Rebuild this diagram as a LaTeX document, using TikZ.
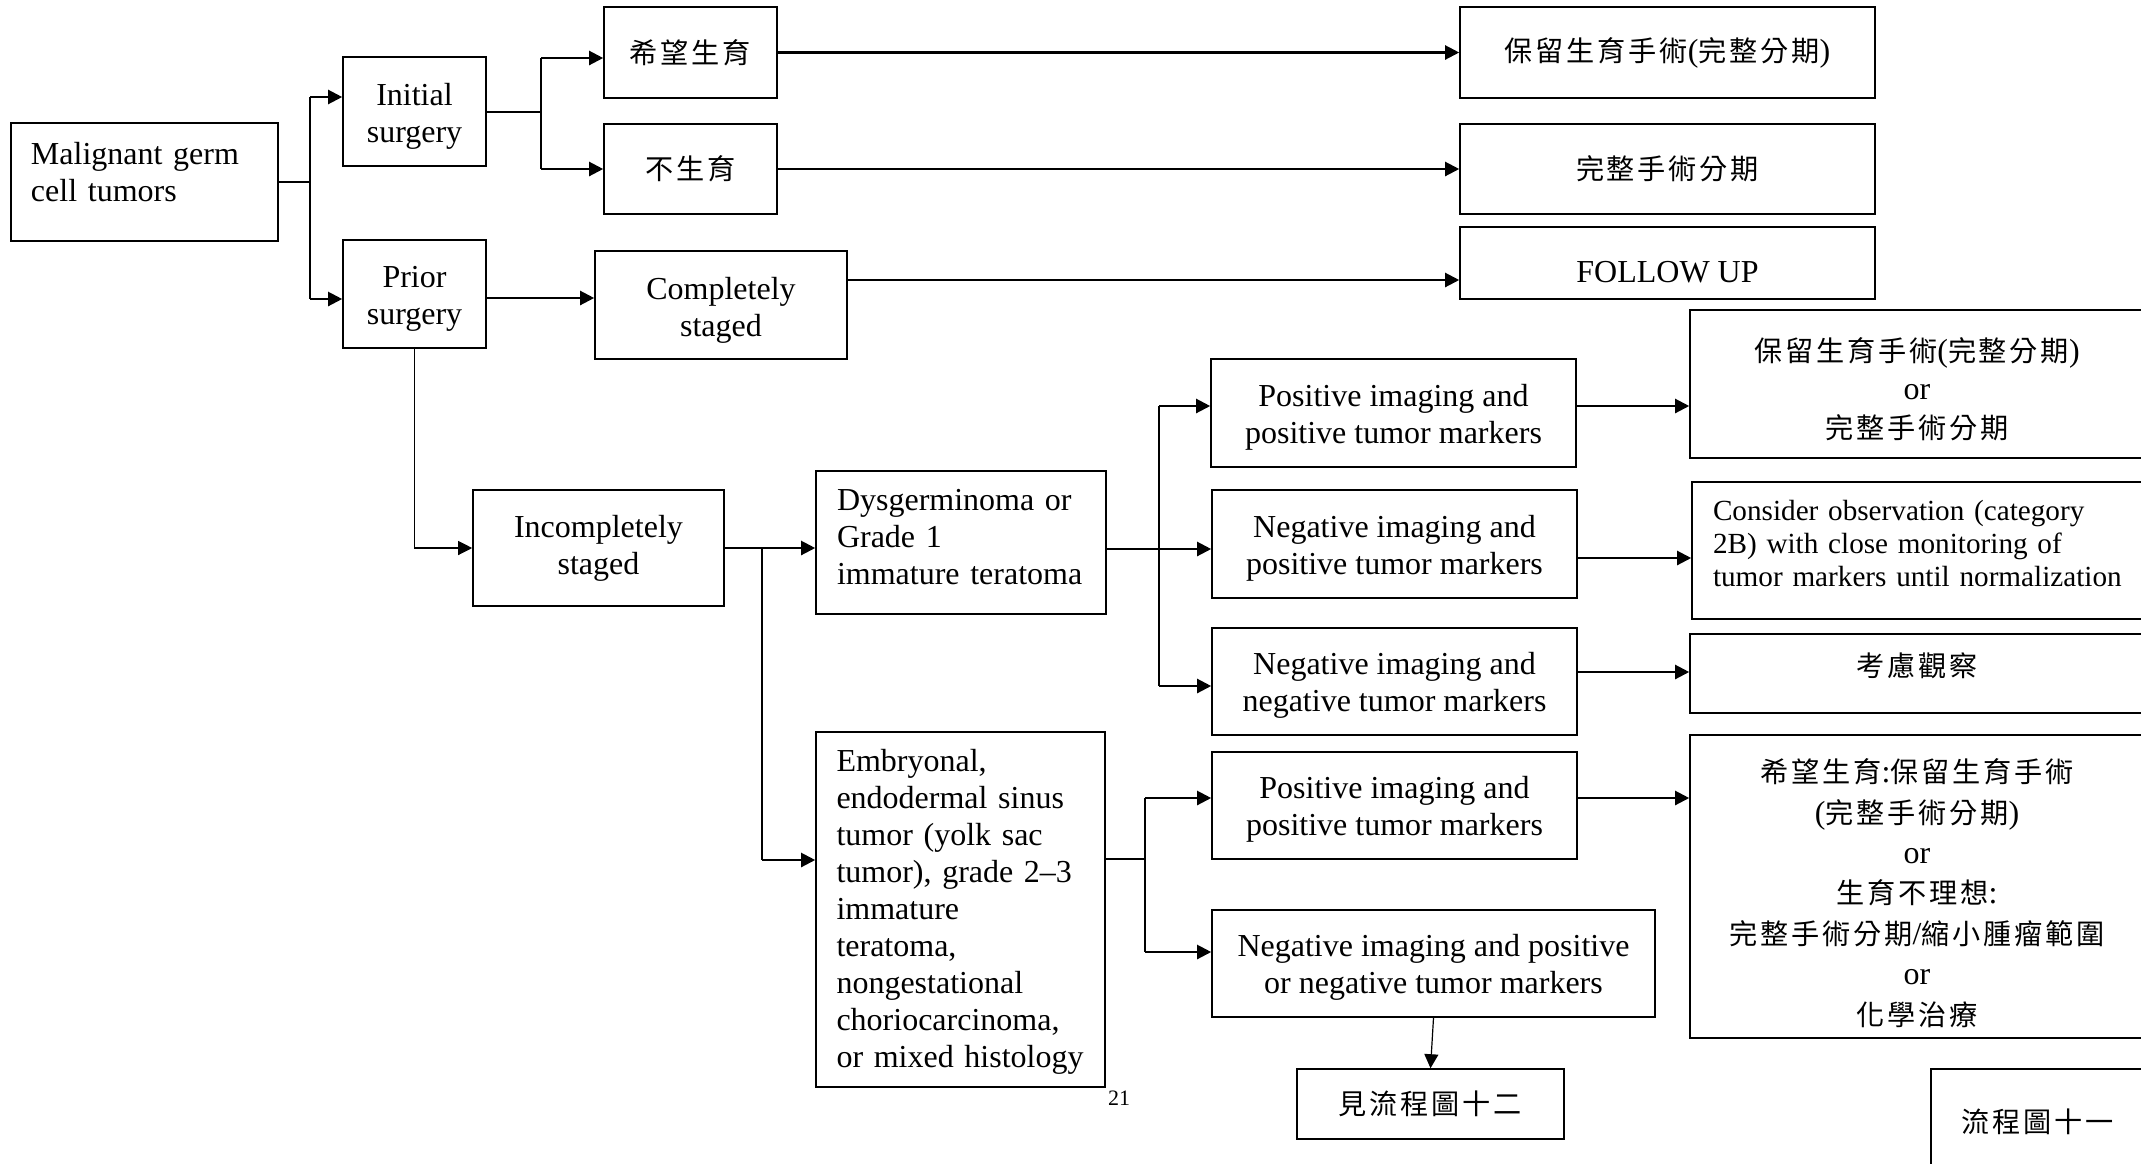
\documentclass[tikz,border=0pt]{standalone}
\usepackage{fontspec}
\setmainfont{Liberation Serif}
\newfontfamily\cjk[Scale=0.88,LetterSpace=10]{Noto Sans CJK TC}
\usetikzlibrary{arrows.meta}

\newcommand\zh[1]{{\cjk #1}}

\tikzset{
  box/.style={draw, line width=0.8pt, inner sep=0pt, align=center,
    font=\fontsize{16}{18.4}\selectfont},
  txt/.style={inner sep=0pt, align=center, font=\fontsize{16}{18.4}\selectfont},
  arr/.style={line width=1.1pt, -{Triangle[length=7pt,width=7pt]}},
  arrthin/.style={line width=0.6pt, -{Triangle[length=7pt,width=7pt]}},
  wire/.style={line width=1.1pt},
  thinwire/.style={line width=0.6pt},
}

% box given by its corners (in pixel units): [opts]{name}{x1}{y1}{x2}{y2}{text}
\newcommand\bx[7][]{%
  \node[box,minimum width={(#5-#3)*0.5pt},minimum height={(#6-#4)*0.5pt},#1]
    (#2) at ({(#3+#5)/2},{(#4+#6)/2}) {#7};}
% empty box plus a separate text node (name+t) placed at (tx,ty)
\newcommand\bxt[9][]{%
  \node[box,minimum width={(#5-#3)*0.5pt},minimum height={(#6-#4)*0.5pt}]
    (#2) at ({(#3+#5)/2},{(#4+#6)/2}) {};
  \node[txt,#1] (#2t) at (#7,#8) {#9};}

\begin{document}
\begin{tikzpicture}[x=0.5pt,y=-0.5pt]
\useasboundingbox (0,0) rectangle (2141,1163);
\fill[white] (0,0) rectangle (2141,1163);
\clip (0,0) rectangle (2141,1163);

% ---- boxes ----
\bxt[align=left,text width=113.5pt]{mal}{11}{123}{278}{241}{144.5}{172}{Malignant germ\\cell tumors}
\bxt{init}{343}{57}{486}{166}{414.5}{116.5}{Initial\\surgery}
\bxt{prior}{343}{240}{486}{348}{414.5}{299}{Prior\\surgery}
\bx{want}{604}{7}{777}{98}{\zh{希望生育}}
\bx{nowant}{604}{124}{777}{214}{\zh{不生育}}
\bx{keep1}{1460}{7}{1875}{98}{\zh{保留生育手術}(\zh{完整分期})}
\bx{stage1}{1460}{124}{1875}{214}{\zh{完整手術分期}}
\bxt{follow}{1460}{227}{1875}{299}{1667.5}{272}{FOLLOW UP}
\bxt{comp}{595}{251}{847}{359}{721}{310}{Completely\\staged}
\bx{incomp}{473}{490}{724}{606}{Incompletely\\staged}
\bxt[align=left,text width=124pt]{dys}{816}{471}{1106}{614}{961}{537}{Dysgerminoma or\\Grade 1\\immature teratoma}
\bxt[align=left,text width=124pt,font=\fontsize{16}{18.5}\selectfont]{emb}{816}{732}{1105}{1087}{960.5}{912}{Embryonal,\\endodermal sinus\\tumor (yolk sac\\tumor), grade 2--3\\immature\\teratoma,\\nongestational\\choriocarcinoma,\\or mixed histology}
\bxt{p1}{1211}{359}{1576}{467}{1393.5}{417}{Positive imaging and\\positive tumor markers}
\bxt{n2}{1212}{490}{1577}{598}{1394.5}{548}{Negative imaging and\\positive tumor markers}
\bxt{n3}{1212}{628}{1577}{735}{1394.5}{685.5}{Negative imaging and\\negative tumor markers}
\bxt{p4}{1212}{752}{1577}{859}{1394.5}{809.5}{Positive imaging and\\positive tumor markers}
\bxt{n5}{1212}{910}{1655}{1017}{1433.5}{967.5}{Negative imaging and positive\\or negative tumor markers}
\bxt[font=\fontsize{16}{19.3}\selectfont]{r1}{1690}{310}{2144}{458}{1917}{389}{\zh{保留生育手術}(\zh{完整分期})\\or\\\zh{完整手術分期}}
\bxt[align=left,text width=206pt,font=\fontsize{14.6}{16.5}\selectfont]{r2}{1692}{482}{2144}{619}{1919}{544}{Consider observation (category\\2B) with close monitoring of\\tumor markers until normalization}
\bxt{r3}{1690}{634}{2144}{713}{1917}{666}{\zh{考慮觀察}}
\bxt[font=\fontsize{16}{20.2}\selectfont]{r4}{1690}{735}{2144}{1038}{1917}{893}{\zh{希望生育}:\zh{保留生育手術}\\(\zh{完整手術分期})\\or\\\zh{生育不理想}:\\\zh{完整手術分期}/\zh{縮小腫瘤範圍}\\or\\\zh{化學治療}}
\bx{see12}{1297}{1069}{1564}{1139}{\zh{見流程圖十二}}
\bx{flow11}{1931}{1069}{2144}{1175}{\zh{流程圖十一}}
\node[font=\fontsize{11}{13}\selectfont,inner sep=0pt] (pagenum) at (1119,1098) {21};

% ---- connectors ----
% from the tumour box to the two surgery boxes
\coordinate (b1) at (310,182);
\coordinate (b1a) at (310,97);
\coordinate (b1b) at (310,299);
\draw[thinwire] (mal.east |- b1) -- (b1);
\draw[wire] (b1a) -- (b1b);
\draw[arr] (b1a) -- (init.west |- b1a);
\draw[arr] (b1b) -- (prior.west |- b1b);

% initial surgery: fertility wish or not
\coordinate (b2) at (541,112);
\coordinate (b2a) at (541,58);
\coordinate (b2b) at (541,169);
\draw[thinwire] (init.east |- b2) -- (b2);
\draw[wire] (b2a) -- (b2b);
\draw[arr] (b2a) -- (want.west |- b2a);
\draw[arr] (b2b) -- (nowant.west |- b2b);
\draw[arr] (want.east) -- (keep1.west);
\draw[arr] (nowant.east) -- (stage1.west);

% prior surgery
\coordinate (c1) at (486,298);
\draw[arr] (prior.east |- c1) -- (comp.west |- c1);
\coordinate (fu) at (847,280);
\draw[arr] (comp.east |- fu) -- (follow.west |- fu);
\draw[arrthin] (prior.south) |- (incomp.west);

% incompletely staged: histology split
\coordinate (b3) at (762,548);
\coordinate (b3b) at (762,860);
\draw[wire] (incomp.east |- b3) -- (b3);
\draw[arr] (b3) -- (dys.west |- b3);
\draw[thinwire] (b3) -- (b3b);
\draw[arr] (b3b) -- (emb.west |- b3b);

% dysgerminoma / grade 1 branch
\coordinate (b4) at (1159,549);
\coordinate (b4a) at (1159,406);
\coordinate (b4b) at (1159,686);
\draw[wire] (dys.east |- b4) -- (b4);
\draw[wire] (b4a) -- (b4b);
\draw[arr] (b4a) -- (p1.west |- b4a);
\draw[arr] (b4) -- (n2.west |- b4);
\draw[arr] (b4b) -- (n3.west |- b4b);
\coordinate (q2) at (1577,558);
\coordinate (q3) at (1577,672);
\draw[arr] (p1.east |- b4a) -- (r1.west |- b4a);
\draw[arr] (n2.east |- q2) -- (r2.west |- q2);
\draw[arr] (n3.east |- q3) -- (r3.west |- q3);

% embryonal / mixed branch
\coordinate (b5) at (1145,859);
\coordinate (b5a) at (1145,798);
\coordinate (b5b) at (1145,952);
\draw[thinwire] (emb.east |- b5) -- (b5);
\draw[wire] (b5a) -- (b5b);
\draw[arr] (b5a) -- (p4.west |- b5a);
\draw[arr] (b5b) -- (n5.west |- b5b);
\draw[arr] (p4.east |- b5a) -- (r4.west |- b5a);
\draw[arrthin] (n5.south) -- (see12.north);
\end{tikzpicture}
\end{document}
